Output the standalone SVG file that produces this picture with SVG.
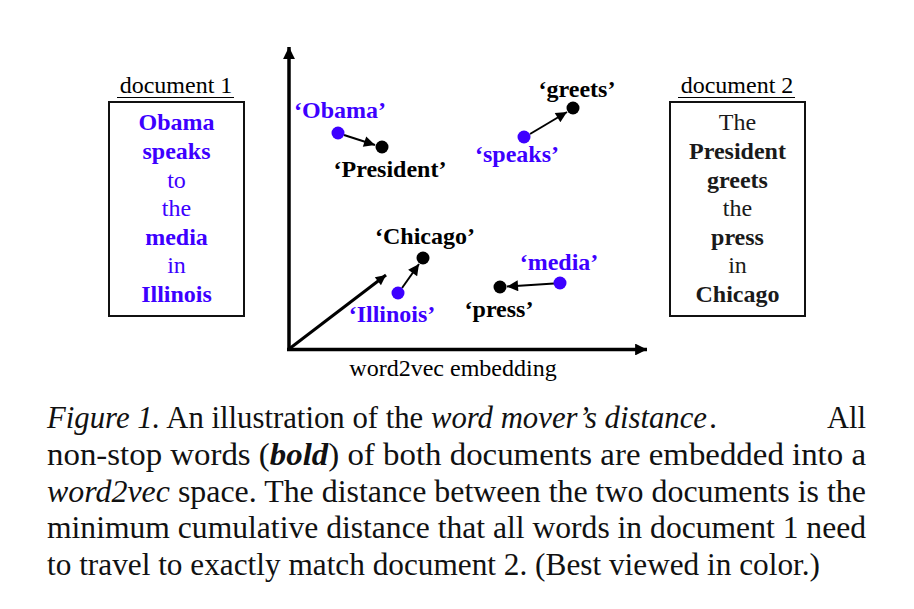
<svg xmlns="http://www.w3.org/2000/svg" width="914" height="609" viewBox="0 0 914 609">
<style>
text{font-family:"Times New Roman",Times,Tinos,"Liberation Serif","Noto Serif","FreeSerif","DejaVu Serif",serif;font-size:24px}
.b{font-weight:bold}
.blue{fill:#3d00ff}
.dk{fill:#1a1a1a}
.c{text-anchor:middle}
.cap{font-size:32px;fill:#111}
.it{font-style:italic}
.box{fill:#fff;stroke:#111;stroke-width:2}
.ax{stroke:#000;stroke-width:3.5;fill:none}
.ar{stroke:#000;stroke-width:2;fill:none}
</style>
<defs>
<marker id="ah" viewBox="0 0 10 10" refX="10" refY="5" markerWidth="7" markerHeight="5.5" markerUnits="strokeWidth" orient="auto">
<path d="M0,0 L10,5 L0,10 Z" fill="#000"/>
</marker>
<marker id="ahs" viewBox="0 0 10 10" refX="10" refY="5" markerWidth="4.6" markerHeight="3.4" markerUnits="strokeWidth" orient="auto">
<path d="M0,0 L10,5 L0,10 Z" fill="#000"/>
</marker>
</defs>
<rect width="914" height="609" fill="#fff"/>

<g id="doc1">
<text x="176" y="93" class="c">document 1</text>
<line x1="117" y1="97.5" x2="234" y2="97.5" stroke="#000" stroke-width="1.2"/>
<rect class="box" x="109" y="102" width="135" height="214"/>
<text class="c blue b" x="176.5" y="130">Obama</text>
<text class="c blue b" x="176.5" y="159">speaks</text>
<text class="c blue" x="176.5" y="188">to</text>
<text class="c blue" x="176.5" y="216">the</text>
<text class="c blue b" x="176.5" y="245">media</text>
<text class="c blue" x="176.5" y="273">in</text>
<text class="c blue b" x="176.5" y="302">Illinois</text>
</g>

<g id="doc2">
<text x="737" y="93" class="c">document 2</text>
<line x1="678" y1="97.5" x2="795" y2="97.5" stroke="#000" stroke-width="1.2"/>
<rect class="box" x="670" y="102" width="135" height="214"/>
<text class="c dk" x="737.5" y="130">The</text>
<text class="c dk b" x="737.5" y="159">President</text>
<text class="c dk b" x="737.5" y="188">greets</text>
<text class="c dk" x="737.5" y="216">the</text>
<text class="c dk b" x="737.5" y="245">press</text>
<text class="c dk" x="737.5" y="273">in</text>
<text class="c dk b" x="737.5" y="302">Chicago</text>
</g>

<g id="connectors">
<line class="ax" x1="289" y1="351" x2="289" y2="47" marker-end="url(#ahs)"/>
<line class="ax" x1="287" y1="349.5" x2="647" y2="349.5" marker-end="url(#ahs)"/>
<line x1="289" y1="349" x2="386" y2="275" stroke="#000" stroke-width="3" marker-end="url(#ahs)"/>
<line class="ar" x1="344" y1="135" x2="375" y2="145" marker-end="url(#ah)"/>
<line class="ar" x1="530" y1="134" x2="567" y2="112" marker-end="url(#ah)"/>
<line class="ar" x1="402" y1="288" x2="419" y2="264" marker-end="url(#ah)"/>
<line class="ar" x1="554" y1="283.5" x2="507" y2="286.5" marker-end="url(#ah)"/>
</g>

<g id="obama"><circle cx="338" cy="133" r="6.5" class="blue"/><text class="c blue b" x="340" y="118">‘Obama’</text></g>
<g id="president"><circle cx="382" cy="147" r="6.5"/><text class="c b" x="390" y="177">‘President’</text></g>
<g id="speaks"><circle cx="524" cy="137" r="6.5" class="blue"/><text class="c blue b" x="517" y="162">‘speaks’</text></g>
<g id="greets"><circle cx="573" cy="108" r="6.5"/><text class="c b" x="577" y="97">‘greets’</text></g>
<g id="chicago"><circle cx="423" cy="258" r="6.5"/><text class="c b" x="425" y="244">‘Chicago’</text></g>
<g id="illinois"><circle cx="398" cy="293" r="6.5" class="blue"/><text class="c blue b" x="392" y="322">‘Illinois’</text></g>
<g id="media"><circle cx="560" cy="283" r="6.5" class="blue"/><text class="c blue b" x="559" y="270">‘media’</text></g>
<g id="press"><circle cx="500" cy="287" r="6.5"/><text class="c b" x="499" y="317">‘press’</text></g>

<text x="453" y="376" class="c">word2vec embedding</text>

<g id="caption">
<text class="cap" x="47" y="428" textLength="660" lengthAdjust="spacingAndGlyphs"><tspan class="it">Figure 1.</tspan> An illustration of the <tspan class="it">word mover’s distance</tspan></text>
<text class="cap" x="709" y="428">.</text>
<text class="cap" x="827" y="428" textLength="39" lengthAdjust="spacingAndGlyphs">All</text>
<text class="cap" x="47" y="465" textLength="819" lengthAdjust="spacingAndGlyphs">non-stop words (<tspan class="it b">bold</tspan>) of both documents are embedded into a</text>
<text class="cap" x="47" y="502" textLength="819" lengthAdjust="spacingAndGlyphs"><tspan class="it">word2vec</tspan> space. The distance between the two documents is the</text>
<text class="cap" x="47" y="538" textLength="819" lengthAdjust="spacingAndGlyphs">minimum cumulative distance that all words in document 1 need</text>
<text class="cap" x="47" y="575" textLength="773" lengthAdjust="spacingAndGlyphs">to travel to exactly match document 2. (Best viewed in color.)</text>
</g>
</svg>
